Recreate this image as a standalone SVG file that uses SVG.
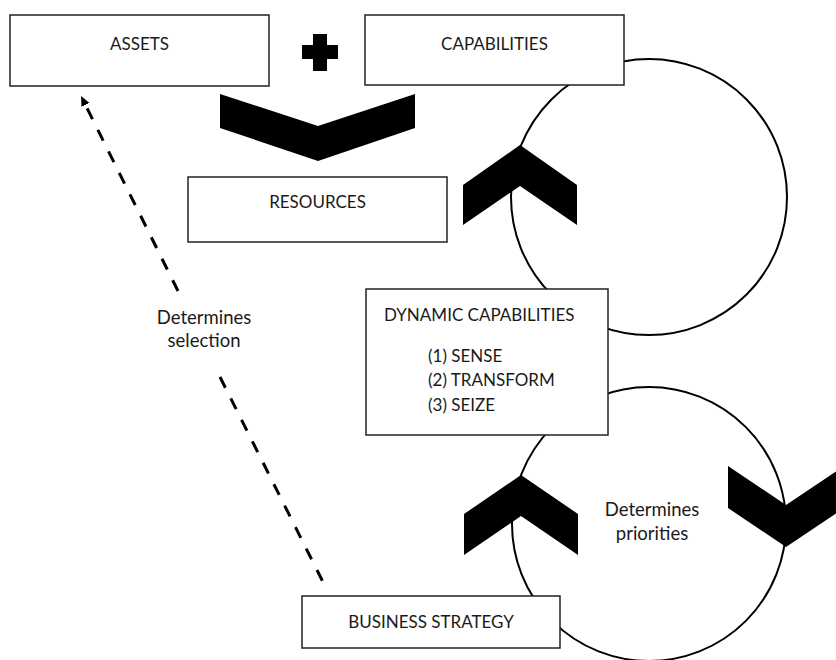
<svg xmlns="http://www.w3.org/2000/svg" width="836" height="660" viewBox="0 0 836 660">
<defs>
<style>
.box{fill:#fff;stroke:#222;stroke-width:1.5}
.t{font-family:Lato,"Liberation Sans",sans-serif;font-size:17px;fill:#1a1a1a}
.l{font-size:18.5px}
.m{text-anchor:middle}
.ring{fill:none;stroke:#000;stroke-width:2}
.chev{fill:#000;stroke:none}
.dash{fill:none;stroke:#000;stroke-width:3;stroke-dasharray:12 12}
</style>
<marker id="ah" markerUnits="userSpaceOnUse" markerWidth="12" markerHeight="12" refX="0" refY="5" orient="auto" viewBox="0 0 12 10">
<path d="M0,0.5 L10,5 L0,9.5 z" fill="#000"/>
</marker>
</defs>
<rect width="836" height="660" fill="#fff"/>
<g id="connectors">
<circle class="ring" cx="649" cy="197" r="138"/>
<circle class="ring" cx="649" cy="524" r="137"/>
<polygon class="chev" points="220,94 318,126 415,94 415,128 318,161 220,128"/>
<polygon class="chev" points="463,185 520,145 577,185 577,225 520,186 463,225"/>
<polygon class="chev" points="464,514 521,475 578,514 578,555 521,516 464,555"/>
<polygon class="chev" points="728,466 786,505 844,466 844,508 786,547 728,508"/>
<path class="dash" d="M178,291 L85.5,105" marker-end="url(#ah)"/>
<path class="dash" d="M220,377 L323,582"/>
<text class="t l m" x="204" y="324">Determines</text>
<text class="t l m" x="204" y="347">selection</text>
<text class="t l m" x="652" y="516">Determines</text>
<text class="t l m" x="652" y="540">priorities</text>
</g>
<g id="assets">
<rect class="box" x="10" y="15" width="259" height="71"/>
<text class="t m" x="139.5" y="50">ASSETS</text>
</g>
<g id="plus">
<rect x="313" y="34" width="14" height="37" fill="#000"/>
<rect x="302" y="45" width="36" height="14" fill="#000"/>
</g>
<g id="capabilities">
<rect class="box" x="365" y="15" width="259" height="70"/>
<text class="t m" x="494.5" y="50">CAPABILITIES</text>
</g>
<g id="resources">
<rect class="box" x="188" y="177" width="259" height="65"/>
<text class="t m" x="317.5" y="208">RESOURCES</text>
</g>
<g id="dynamic-capabilities">
<rect class="box" x="366" y="289" width="242" height="146"/>
<text class="t" x="384" y="321">DYNAMIC CAPABILITIES</text>
<text class="t" x="428" y="362">(1) SENSE</text>
<text class="t" x="428" y="386">(2) TRANSFORM</text>
<text class="t" x="428" y="411">(3) SEIZE</text>
</g>
<g id="business-strategy">
<rect class="box" x="302" y="596" width="258" height="52"/>
<text class="t m" x="431" y="628">BUSINESS STRATEGY</text>
</g>
</svg>
